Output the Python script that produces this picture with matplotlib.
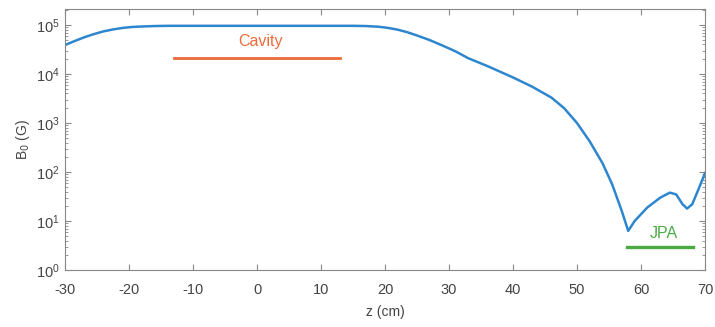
import numpy as np
import matplotlib.pyplot as plt

plt.rcParams['font.family'] = ['Liberation Sans', 'DejaVu Sans']
plt.rcParams['axes.unicode_minus'] = False

# field profile
z = [-30, -28.5, -27, -25.5, -24, -22.5, -21, -19.5, -18, -16, -14, -10, -5,
     0, 5, 10, 15, 17, 19, 20.5, 22, 23.5, 25, 27, 29, 31, 33, 36, 40, 43,
     46, 48, 50, 52, 54, 55.5, 57, 58, 59, 61, 63, 64.5, 65.5, 66.5, 67.2,
     68, 69, 70]
B0 = [3.9e4, 4.7e4, 5.6e4, 6.5e4, 7.4e4, 8.1e4, 8.7e4, 9.1e4, 9.3e4, 9.5e4,
      9.6e4, 9.6e4, 9.6e4, 9.6e4, 9.6e4, 9.6e4, 9.6e4, 9.5e4, 9.2e4, 8.7e4,
      8.0e4, 7.1e4, 6.1e4, 4.9e4, 3.8e4, 2.9e4, 2.1e4, 1.45e4, 8.5e3, 5.5e3,
      3.3e3, 2.0e3, 1.0e3, 4.2e2, 1.5e2, 56, 16, 6.3, 10, 19, 30, 38, 35, 22,
      18, 22, 45, 95]

cavity_z = [-13, 13]
cavity_B = 2.1e4
jpa_z = [57.8, 68.1]
jpa_B = 2.9

fig = plt.figure(figsize=(7.15, 3.27), dpi=100)
ax = fig.add_axes([0.091, 0.174, 0.895, 0.798])

ax.plot(z, B0, color='#2e86cf', lw=1.8)
ax.plot(cavity_z, [cavity_B, cavity_B], color='#ef6a3a', lw=2)
ax.plot(jpa_z, [jpa_B, jpa_B], color='#4caa45', lw=2.4)
ax.text(np.mean(cavity_z) + 0.5, 3.3e4, 'Cavity', color='#ef6a3a',
        ha='center', va='bottom', fontsize=11.5)
ax.text(63.5, 4.0, 'JPA', color='#4caa45', ha='center', va='bottom',
        fontsize=11.5)

ax.set_yscale('log')
ax.set_xlim(-30, 70)
ax.set_ylim(1, 2.1e5)
ax.set_xticks(range(-30, 71, 10))
ax.set_yticks([1e0, 1e1, 1e2, 1e3, 1e4, 1e5])

for s in ax.spines.values():
    s.set_color('#888888')
    s.set_linewidth(0.8)
ax.tick_params(which='both', direction='in', top=True, right=True,
               colors='#888888', labelcolor='#444444', labelsize=10.5)
ax.tick_params(which='major', length=4)
ax.tick_params(which='minor', length=2)
ax.tick_params(axis='x', pad=9)
ax.tick_params(axis='y', pad=4)

ax.set_xlabel('z (cm)', color='#444444', fontsize=10, labelpad=6)
ax.set_ylabel('B$_0$ (G)', color='#444444', fontsize=10, labelpad=3)

fig.savefig('out.png', dpi=100)
